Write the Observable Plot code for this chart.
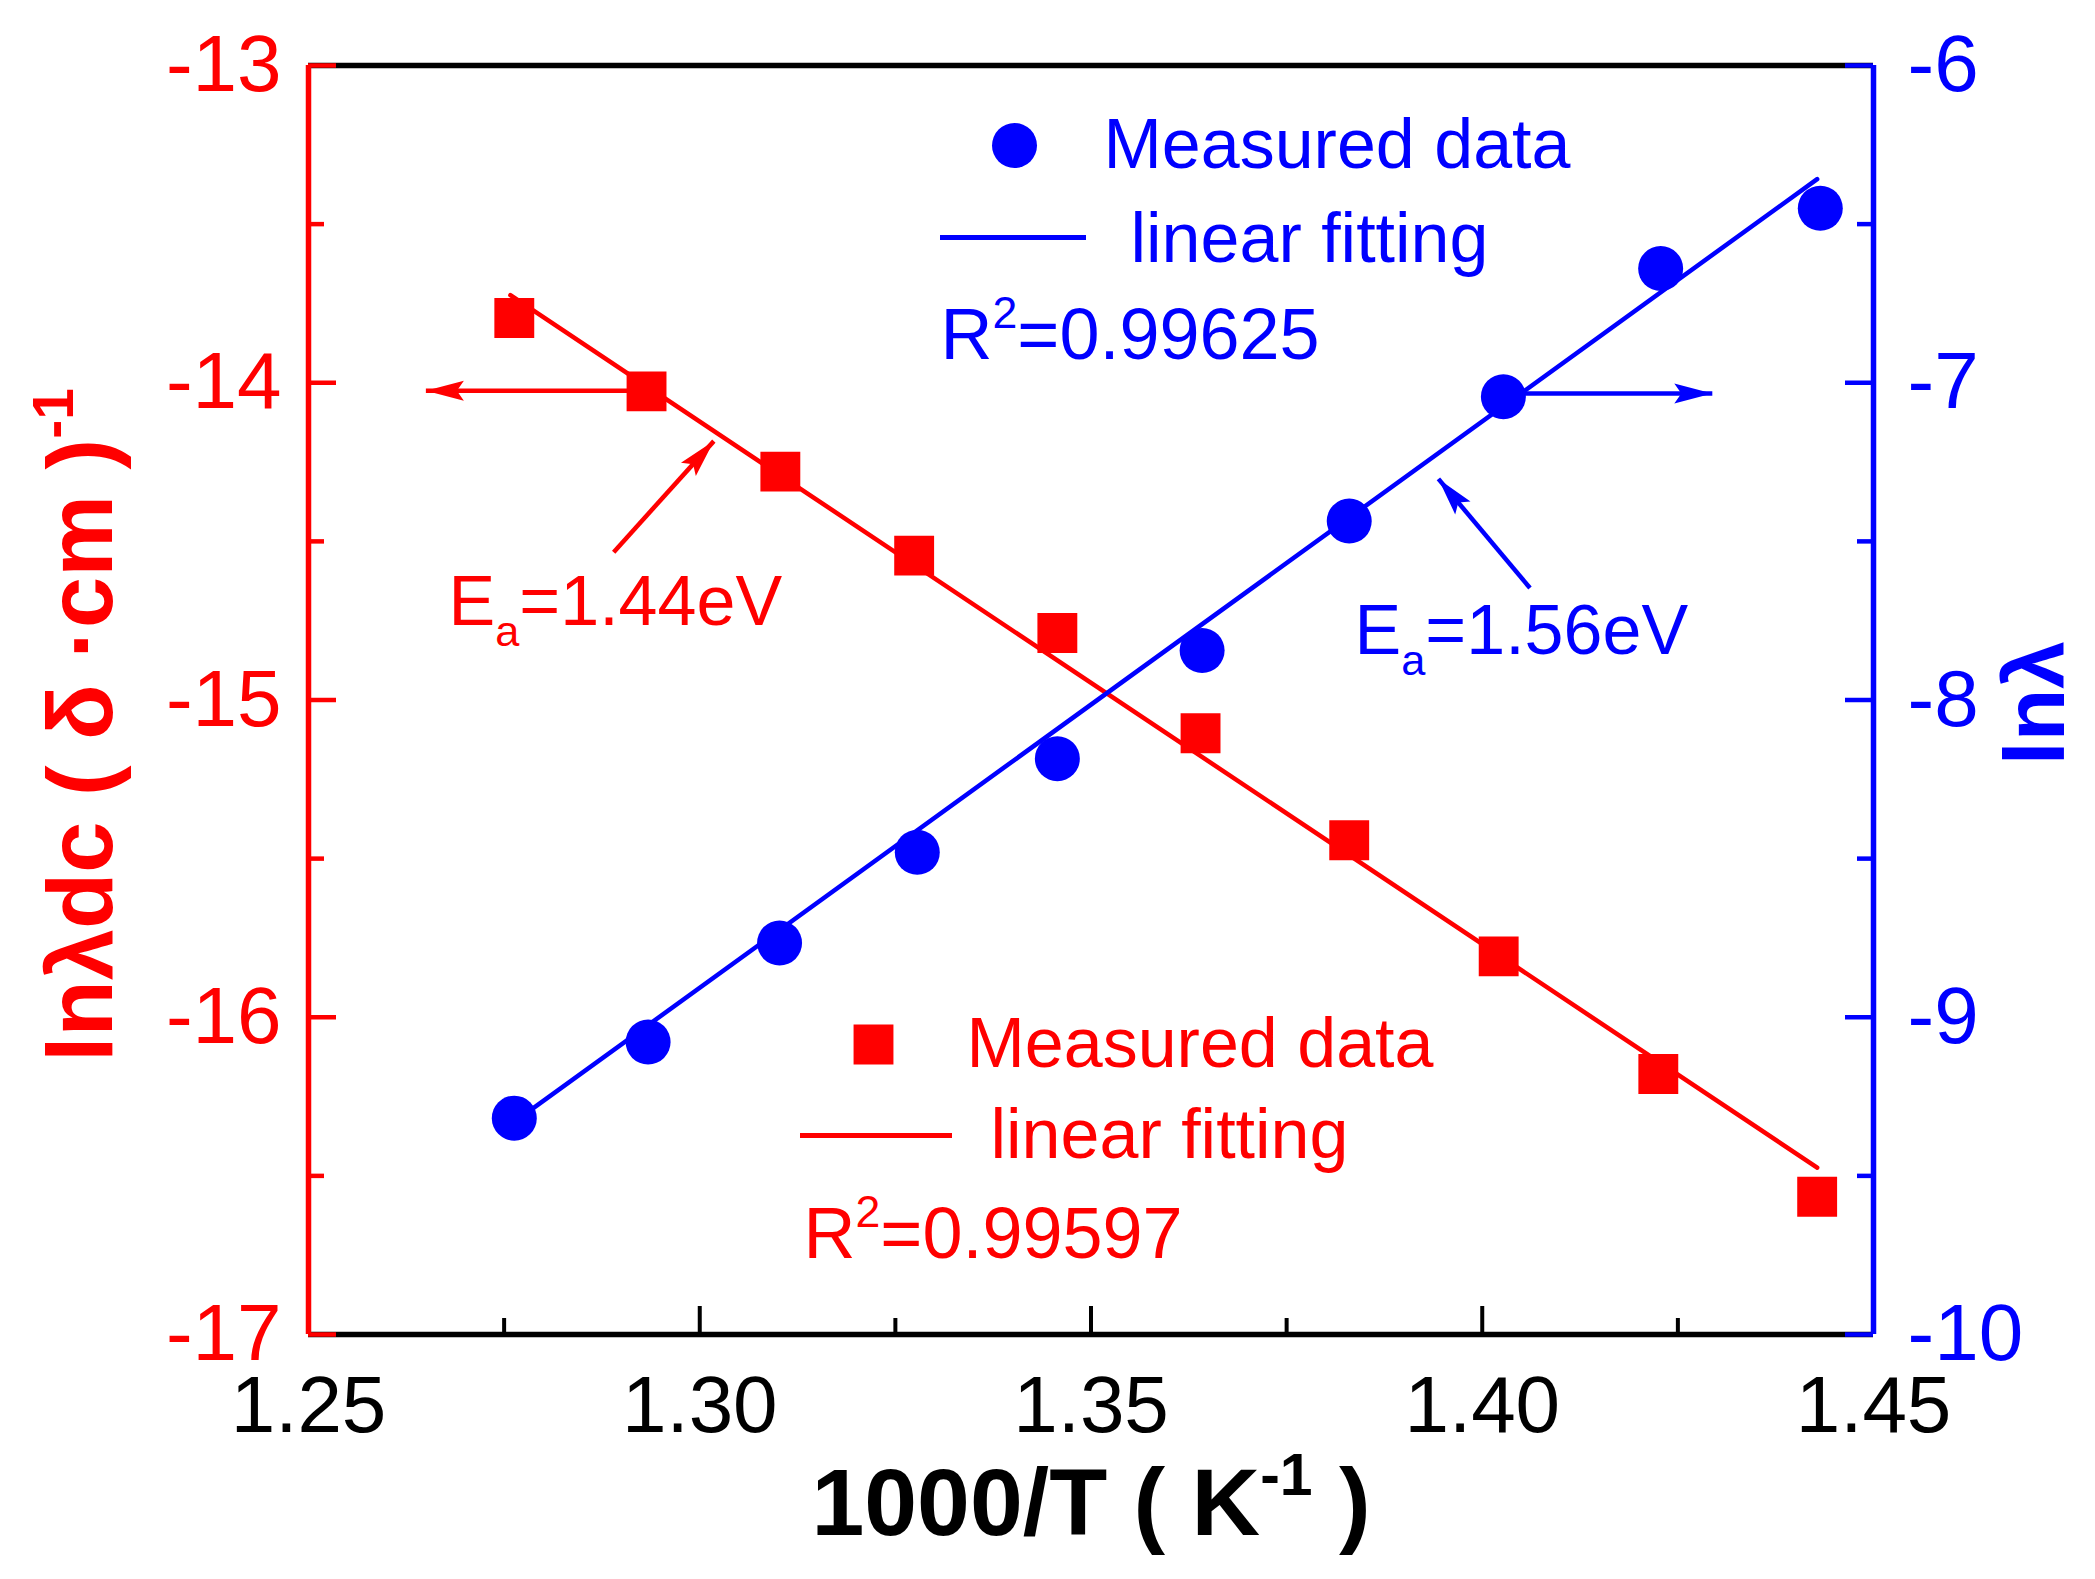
<!DOCTYPE html>
<html><head><meta charset="utf-8">
<script src="https://cdn.jsdelivr.net/npm/d3@7"></script>
<script src="https://cdn.jsdelivr.net/npm/@observablehq/plot@0.6"></script>
<style>
body{margin:0;background:#fff;}
#chart svg{display:block;background:#fff;}
</style>
</head><body><div id="chart"></div>
<script>
// ---- data ----
const tempRed  = [1.2763, 1.2932, 1.3103, 1.3274, 1.3457, 1.3640, 1.3830, 1.4021, 1.4225, 1.4428];
const lnSigmaDc = [-13.796, -14.027, -14.280, -14.545, -14.789, -15.105, -15.442, -15.808, -16.179, -16.566];
const tempBlue = [1.2763, 1.2934, 1.3102, 1.3278, 1.3457, 1.3642, 1.3830, 1.4027, 1.4228, 1.4432];
const lnLambda = [-9.318, -9.078, -8.766, -8.480, -8.185, -7.844, -7.436, -7.044, -6.640, -6.450];
const fitRedX = [1.2758, 1.4428];
const fitRedY = [-13.724, -16.474];
const fitBlueX = [1.2763, 1.4428];
const fitBlueY = [-9.330, -6.358];
const xTicks = [1.25, 1.30, 1.35, 1.40, 1.45];
const xMinor = [1.275, 1.325, 1.375, 1.425];
const leftTicks = [-13, -14, -15, -16, -17];
const leftMinor = [-13.5, -14.5, -15.5, -16.5];
const rightTicks = [-6, -7, -8, -9, -10];
const rightMinor = [-6.5, -7.5, -8.5, -9.5];
const redLegend = ["Measured data", "linear fitting", "R^{2}=0.99597"];
const blueLegend = ["Measured data", "linear fitting", "R^{2}=0.99625"];
const redEa = "E_{a}=1.44eV";
const blueEa = "E_{a}=1.56eV";
const xLabel = "1000/T ( K^{-1} )";
const yLeftLabel = "lnλdc ( δ ·cm )^{-1}";
const yRightLabel = "lnλ";

// ---- layout ----
const RED = "#ff0000", BLUE = "#0000ff";
const W = 2095, H = 1579;
const mL = 308, mR = 222, mT = 65, mB = 245;
const fw = W - mL - mR, fh = H - mT - mB;
const xDom = [1.25, 1.45], yDom = [-17, -13];
const off = -7; // right axis value -> left axis value
const xPx = p => xDom[0] + (p - mL) / fw * (xDom[1] - xDom[0]);
const yPx = p => yDom[1] - (p - mT) / fh * (yDom[1] - yDom[0]);

const redPts = tempRed.map((x, i) => ({x, y: lnSigmaDc[i]}));
const bluePts = tempBlue.map((x, i) => ({x, y: lnLambda[i] + off}));
const redFit = fitRedX.map((x, i) => ({x, y: fitRedY[i]}));
const blueFit = fitBlueX.map((x, i) => ({x, y: fitBlueY[i] + off}));

function head(angle) {
  const a = angle * Math.PI / 180, c = Math.cos(a), s = Math.sin(a);
  const pts = [[0, 0], [10, 38], [0, 31], [-10, 38]].map(([x, y]) => [x * c - y * s, x * s + y * c]);
  return {draw(ctx) { ctx.moveTo(pts[0][0], pts[0][1]); for (let i = 1; i < pts.length; i++) ctx.lineTo(pts[i][0], pts[i][1]); ctx.closePath(); }};
}
const arrows = [
  {x1: 1.2932, y1: -14.025, x2: 1.2650, y2: -14.025, a: -90, c: RED},
  {x1: 1.2890, y1: -14.534, x2: 1.3018, y2: -14.184, a: 42, c: RED},
  {x1: 1.4027, y1: -7.034 + off, x2: 1.4294, y2: -7.034 + off, a: 90, c: BLUE},
  {x1: 1.4061, y1: -7.647 + off, x2: 1.3944, y2: -7.303 + off, a: -40, c: BLUE}
];

const txt = (s, o) => Plot.text([s], {text: d => d, frameAnchor: "top-left", textAnchor: "start", lineAnchor: "middle", fontSize: 70, ...o});

const svg = Plot.plot({
  width: W, height: H,
  marginLeft: mL, marginRight: mR, marginTop: mT, marginBottom: mB,
  style: {fontFamily: "'Liberation Sans', Arial, sans-serif", background: "#fff"},
  x: {domain: xDom, axis: null},
  y: {domain: yDom, axis: null},
  marks: [
    // ticks (inward)
    Plot.tickX(xTicks.slice(1, -1), {x: d => d, insetTop: fh - 28, stroke: "black", strokeWidth: 4}),
    Plot.tickX(xMinor, {x: d => d, insetTop: fh - 16, stroke: "black", strokeWidth: 4}),
    // spines
    Plot.ruleY([yDom[1]], {stroke: "black", strokeWidth: 5.5}),
    Plot.ruleY([yDom[0]], {stroke: "black", strokeWidth: 5.5}),
    Plot.ruleX([xDom[0]], {stroke: RED, strokeWidth: 5.5}),
    Plot.ruleX([xDom[1]], {stroke: BLUE, strokeWidth: 5.5}),
    Plot.tickY(leftTicks, {y: d => d, insetRight: fw - 28, stroke: RED, strokeWidth: 4.5}),
    Plot.tickY(leftMinor, {y: d => d, insetRight: fw - 16, stroke: RED, strokeWidth: 4.5}),
    Plot.tickY(rightTicks, {y: d => d + off, insetLeft: fw - 28, stroke: BLUE, strokeWidth: 4.5}),
    Plot.tickY(rightMinor, {y: d => d + off, insetLeft: fw - 16, stroke: BLUE, strokeWidth: 4.5}),
    // tick labels
    Plot.text(xTicks, {x: d => d, text: d => d.toFixed(2), frameAnchor: "bottom", dy: 72, textAnchor: "middle", lineAnchor: "middle", fontSize: 80, fill: "black"}),
    Plot.text(leftTicks, {y: d => d, text: d => String(d), frameAnchor: "left", dx: -27, textAnchor: "end", lineAnchor: "middle", fontSize: 80, fill: RED}),
    Plot.text(rightTicks, {y: d => d + off, text: d => String(d), frameAnchor: "right", dx: 34, textAnchor: "start", lineAnchor: "middle", fontSize: 80, fill: BLUE}),
    // axis titles
    Plot.text([xLabel], {text: d => d, frameAnchor: "bottom", dy: 170, textAnchor: "middle", lineAnchor: "middle", fontSize: 95, fontWeight: "bold", fill: "black"}),
    Plot.text([yLeftLabel], {text: d => d, frameAnchor: "left", dx: -226, dy: 25, rotate: -90, textAnchor: "middle", lineAnchor: "middle", fontSize: 92, fontWeight: "bold", fill: RED}),
    Plot.text([yRightLabel], {text: d => d, frameAnchor: "right", dx: 163, dy: 3, rotate: -90, textAnchor: "middle", lineAnchor: "middle", fontSize: 86, fontWeight: "bold", fill: BLUE}),
    // fit lines
    Plot.line(redFit, {x: "x", y: "y", stroke: RED, strokeWidth: 4.5}),
    Plot.line(blueFit, {x: "x", y: "y", stroke: BLUE, strokeWidth: 4.5}),
    // data
    Plot.dot(redPts, {x: "x", y: "y", symbol: "square", r: 22.5, fill: RED}),
    Plot.dot(bluePts, {x: "x", y: "y", symbol: "circle", r: 22.5, fill: BLUE}),
    // arrows
    Plot.link(arrows, {x1: "x1", y1: "y1", x2: "x2", y2: "y2", stroke: d => d.c, strokeWidth: 4.5}),
    ...arrows.map(a => Plot.dot([a], {x: "x2", y: "y2", symbol: head(a.a), r: 10, fill: a.c})),
    // blue legend
    Plot.dot([0], {frameAnchor: "top-left", dx: 706, dy: 80, r: 22.5, fill: BLUE}),
    txt(blueLegend[0], {dx: 795, dy: 80, fill: BLUE}),
    Plot.ruleY([yPx(237)], {x1: xPx(940), x2: xPx(1086), stroke: BLUE, strokeWidth: 5}),
    txt(blueLegend[1], {dx: 822, dy: 174, fill: BLUE}),
    txt(blueLegend[2], {dx: 632, dy: 270, fill: BLUE, fontSize: 72}),
    // red legend
    Plot.dot([0], {frameAnchor: "top-left", dx: 565, dy: 979, r: 22.5, symbol: "square", fill: RED}),
    txt(redLegend[0], {dx: 658, dy: 979, fill: RED}),
    Plot.ruleY([yPx(1135)], {x1: xPx(800), x2: xPx(952), stroke: RED, strokeWidth: 5}),
    txt(redLegend[1], {dx: 682, dy: 1070, fill: RED}),
    txt(redLegend[2], {dx: 495, dy: 1169, fill: RED, fontSize: 72}),
    // activation energies
    txt(redEa, {dx: 140, dy: 537, fill: RED}),
    txt(blueEa, {dx: 1046, dy: 566, fill: BLUE})
  ]
});
document.getElementById("chart").appendChild(svg);

function rich(root) {
  for (const t of root.querySelectorAll("text")) {
    const s = t.textContent;
    if (!/[_^]\{/.test(s)) continue;
    const fs = parseFloat(getComputedStyle(t).fontSize);
    const re = /([_^])\{([^}]*)\}/g;
    let last = 0, m; const parts = [];
    while ((m = re.exec(s))) {
      if (m.index > last) parts.push({t: s.slice(last, m.index)});
      parts.push({t: m[2], k: m[1]});
      last = re.lastIndex;
    }
    if (last < s.length) parts.push({t: s.slice(last)});
    t.textContent = "";
    let cur = 0;
    for (const p of parts) {
      const ts = document.createElementNS("http://www.w3.org/2000/svg", "tspan");
      const o = p.k === "_" ? 0.3 * fs : p.k === "^" ? -0.42 * fs : 0;
      ts.setAttribute("dy", o - cur); cur = o;
      if (p.k) ts.setAttribute("font-size", 0.62 * fs);
      ts.textContent = p.t;
      t.appendChild(ts);
    }
  }
}
rich(svg);
</script>
</body></html>
